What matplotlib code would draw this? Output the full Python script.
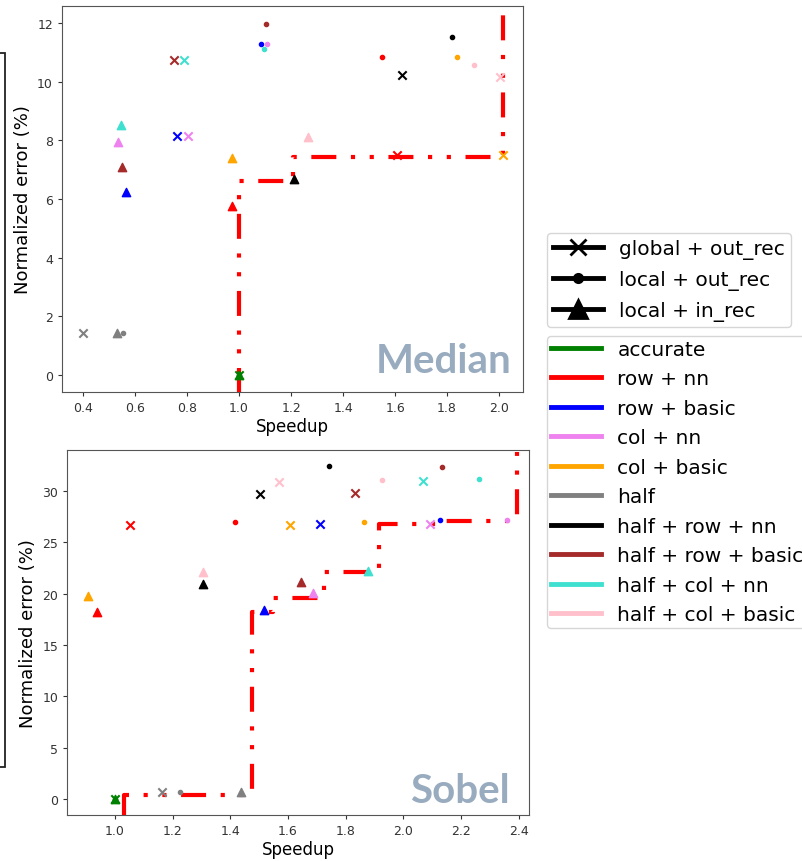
import matplotlib
matplotlib.use("Agg")
from matplotlib import pyplot as plt
from matplotlib.lines import Line2D
from matplotlib.patches import Rectangle

# configurations (colour per config)
configs = ["accurate", "row + nn", "row + basic", "col + nn", "col + basic", "half",
           "half + row + nn", "half + row + basic", "half + col + nn", "half + col + basic"]
colors = ["green", "red", "blue", "violet", "orange", "gray",
          "black", "brown", "turquoise", "pink"]

# methods (marker per method)
methods = ["global + out_rec", "local + out_rec", "local + in_rec"]
markers = ["x", ".", "^"]

# Median: speedup / error per method, one value per config
med_x_global = [1.0, 1.609, 0.760, 0.803, 2.014, 0.399, 1.627, 0.749, 0.787, 2.004]
med_y_global = [0.0, 7.50, 8.16, 8.16, 7.50, 1.42, 10.24, 10.74, 10.74, 10.15]
med_x_local = [1.0, 1.551, 1.086, 1.106, 1.840, 0.555, 1.818, 1.103, 1.097, 1.904]
med_y_local = [0.0, 10.85, 11.30, 11.30, 10.85, 1.42, 11.52, 11.97, 11.13, 10.58]
med_x_inrec = [1.0, 0.972, 0.565, 0.535, 0.973, 0.530, 1.213, 0.550, 0.546, 1.267]
med_y_inrec = [0.0, 5.77, 6.23, 7.93, 7.39, 1.42, 6.68, 7.10, 8.53, 8.10]
med_front_x = [1.0, 1.0, 1.208, 2.015]
med_front_y = [-0.6, 6.61, 7.43, 12.38]

# Sobel
sob_x_global = [1.0, 1.052, 1.713, 2.093, 1.607, 1.162, 1.504, 1.833, 2.069, 1.569]
sob_y_global = [0.0, 26.7, 26.8, 26.83, 26.7, 0.71, 29.73, 29.8, 30.95, 30.87]
sob_x_local = [1.0, 1.416, 2.128, 2.361, 1.864, 1.225, 1.743, 2.134, 2.263, 1.926]
sob_y_local = [0.0, 27.0, 27.16, 27.2, 27.0, 0.71, 32.4, 32.36, 31.2, 31.06]
sob_x_inrec = [1.0, 0.937, 1.518, 1.688, 0.906, 1.436, 1.304, 1.646, 1.879, 1.306]
sob_y_inrec = [0.0, 18.26, 18.45, 20.1, 19.8, 0.71, 20.96, 21.1, 22.25, 22.1]
sob_front_x = [1.032, 1.032, 1.476, 1.549, 1.725, 1.916, 2.127, 2.393]
sob_front_y = [-1.6, 0.39, 18.26, 19.56, 22.15, 26.77, 27.1, 33.8]

W, H = 803, 862
fig = plt.figure(figsize=(W / 100, H / 100), dpi=100)

front_style = (0, (6, 3.5, 1, 3.5, 1, 3.5))


def draw(ax, xs, ys, fx, fy):
    ax.plot(fx, fy, drawstyle="steps-post", color="red", lw=3, ls=front_style)
    for m, (x, y) in zip(markers, zip(xs, ys)):
        for i in range(len(configs)):
            ax.scatter(x[i], y[i], marker=m, color=colors[i], s=36, zorder=3)
    ax.set_xlabel("Speedup", fontsize=12, labelpad=2)
    ax.set_ylabel("Normalized error (%)", fontsize=13)
    ax.tick_params(labelsize=9, colors="#333333", length=3)
    for s in ax.spines.values():
        s.set_color("#555555")


ax1 = fig.add_axes([62 / W, 1 - 393 / H, 461 / W, 386 / H])
draw(ax1, [med_x_global, med_x_local, med_x_inrec],
     [med_y_global, med_y_local, med_y_inrec], med_front_x, med_front_y)
ax1.set_xlim(0.319, 2.092)
ax1.set_ylim(-0.58, 12.58)
ax1.set_xticks([0.4, 0.6, 0.8, 1.0, 1.2, 1.4, 1.6, 1.8, 2.0])
ax1.set_yticks([0, 2, 4, 6, 8, 10, 12])

ax2 = fig.add_axes([67.3 / W, 1 - 816 / H, 461.7 / W, 365 / H])
draw(ax2, [sob_x_global, sob_x_local, sob_x_inrec],
     [sob_y_global, sob_y_local, sob_y_inrec], sob_front_x, sob_front_y)
ax2.set_xlim(0.835, 2.436)
ax2.set_ylim(-1.56, 34.0)
ax2.set_xticks([1.0, 1.2, 1.4, 1.6, 1.8, 2.0, 2.2, 2.4])
ax2.set_yticks([0, 5, 10, 15, 20, 25, 30])

# big labels in the corner
fig.text(512 / W, 1 - 373 / H, "Median", ha="right", va="baseline", fontsize=29,
         fontweight="bold", family="Lato", color="#98abbf")
fig.text(510 / W, 1 - 803 / H, "Sobel", ha="right", va="baseline", fontsize=29,
         fontweight="bold", family="Lato", color="#98abbf")

# legends
h1 = [Line2D([], [], color="black", lw=3.5, marker=m, ms=ms, mew=2)
      for m, ms in zip(markers, [12, 12, 13])]
leg1 = fig.legend(h1, methods, loc="upper left", bbox_to_anchor=(547 / W, 1 - 234 / H),
                  bbox_transform=fig.transFigure, fontsize=14.5, handlelength=2.5,
                  labelspacing=0.55, borderpad=0.3, borderaxespad=0)
h2 = [Line2D([], [], color=c, lw=3.5) for c in colors]
leg2 = fig.legend(h2, configs, loc="upper left", bbox_to_anchor=(547 / W, 1 - 337 / H),
                  bbox_transform=fig.transFigure, fontsize=14.5, handlelength=2.5,
                  labelspacing=0.52, borderpad=0.2, borderaxespad=0)

# partial frame at the left edge
fig.patches.append(Rectangle((-0.05, 1 - 768 / H), 0.05 + 5 / W, 714 / H,
                             transform=fig.transFigure, fill=False, lw=1.3,
                             edgecolor="#222222"))

fig.savefig("out.png", dpi=100)
